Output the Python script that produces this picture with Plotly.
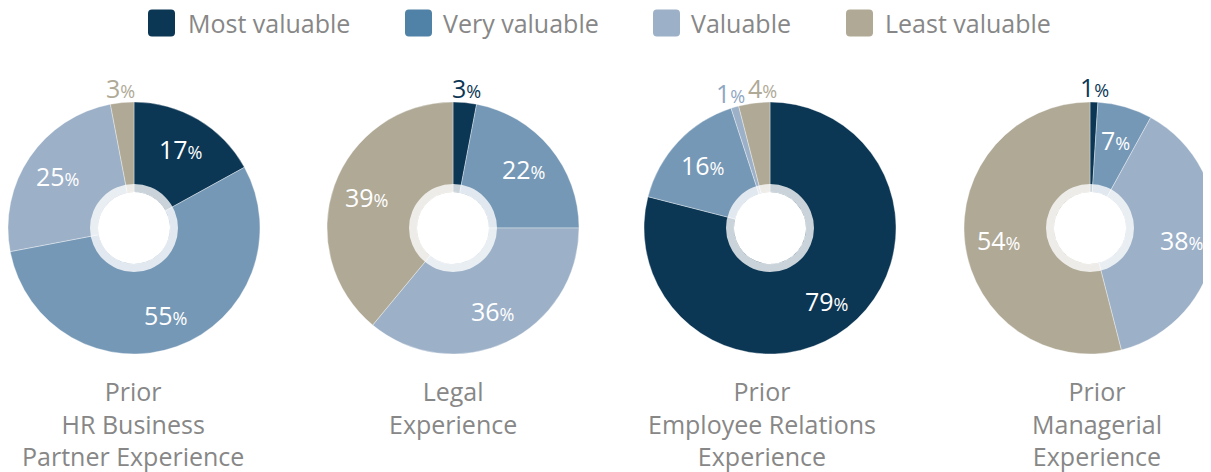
import math
import plotly.graph_objects as go

# ---------------- data ----------------
categories = ["Most valuable", "Very valuable", "Valuable", "Least valuable"]
experiences = [
    "Prior<br>HR Business<br>Partner Experience",
    "Legal<br>Experience",
    "Prior<br>Employee Relations<br>Experience",
    "Prior<br>Managerial<br>Experience",
]
hr_business_partner = [17, 55, 25, 3]
legal = [3, 22, 36, 39]
employee_relations = [79, 16, 1, 4]
managerial = [1, 7, 38, 54]
series = [hr_business_partner, legal, employee_relations, managerial]

# ---------------- styles ----------------
W, H = 1211, 472
OX, OY = 8, 8  # page body margin offset
slice_colors = ["#0b3654", "#7598b6", "#9cb0c8", "#afa996"]
legend_colors = ["#0b3654", "#4f82a6", "#9cb0c8", "#afa996"]
label_out_colors = ["#0b3654", "#7598b6", "#8fa6c2", "#afa996"]
FONT = "Open Sans"
GRAY = "#878787"

pie_centers = [(134, 228), (453, 228), (770, 228), (1090, 228)]  # page px
R = 126
HOLE_R = 36
RING_R = 44
title_x = [133, 453, 762, 1097]
title_top = 372

legend_sq_x = [148, 405, 653, 846]
legend_txt_x = [186, 441, 689, 883]
legend_y = 23
SQ = 27


def PX(x):
    return min(max((x - OX) / W, 0.0), 1.0)


def PY(y):
    return min(max(1 - (y - OY) / H, 0.0), 1.0)


def dom(cx, cy, r):
    return dict(x=[PX(cx - r), PX(cx + r)], y=[PY(cy + r), PY(cy - r)])


fig = go.Figure()
annotations = []

for i, vals in enumerate(series):
    cx, cy = pie_centers[i]
    fig.add_trace(go.Pie(
        labels=categories,
        values=vals,
        sort=False,
        direction="clockwise",
        rotation=0,
        hole=HOLE_R / R,
        domain=dom(cx, cy, R),
        marker=dict(colors=slice_colors, line=dict(color="rgba(255,255,255,0.6)", width=0.6)),
        textinfo="none",
        showlegend=False,
        hoverinfo="label+percent",
    ))
    # translucent ring around the hole
    fig.add_trace(go.Pie(
        labels=["ring"],
        values=[1],
        sort=False,
        hole=HOLE_R / RING_R,
        domain=dom(cx, cy, RING_R),
        marker=dict(colors=["rgba(255,255,255,0.78)"], line=dict(width=0)),
        textinfo="none",
        hoverinfo="skip",
        showlegend=False,
    ))

    # value labels placed at each slice's mid-angle
    total = sum(vals)
    cum = 0
    last_out_x = None
    for j, v in enumerate(vals):
        mid = (cum + v / 2) / total
        cum += v
        th = mid * 2 * math.pi
        outside = v < 5
        r = R + 15 if outside else 0.73 * R
        lx = cx + r * math.sin(th)
        ly = cy - r * math.cos(th)
        if outside:
            if last_out_x is not None and lx < last_out_x + 32:
                lx = last_out_x + 32
            last_out_x = lx
            color = label_out_colors[j]
        else:
            color = "white"
        annotations.append(dict(
            x=PX(lx), y=PY(ly), xref="paper", yref="paper",
            xanchor="center", yanchor="middle", showarrow=False,
            text=f"{v}<span style='font-size:18px'>%</span>",
            font=dict(family=FONT, size=25, color=color),
        ))

for i, t in enumerate(experiences):
    annotations.append(dict(
        x=PX(title_x[i]), y=PY(title_top), xref="paper", yref="paper",
        xanchor="center", yanchor="top", text=t, showarrow=False, align="center",
        font=dict(family=FONT, size=25, color=GRAY),
    ))

shapes = []
rr = 4
for i, c in enumerate(categories):
    x0 = legend_sq_x[i]
    x1 = x0 + SQ
    y0 = legend_y - SQ / 2
    y1 = legend_y + SQ / 2

    def P(x, y):
        return f"{PX(x):.6f},{PY(y):.6f}"

    path = (f"M{P(x0 + rr, y0)} L{P(x1 - rr, y0)} Q{P(x1, y0)} {P(x1, y0 + rr)} "
            f"L{P(x1, y1 - rr)} Q{P(x1, y1)} {P(x1 - rr, y1)} "
            f"L{P(x0 + rr, y1)} Q{P(x0, y1)} {P(x0, y1 - rr)} "
            f"L{P(x0, y0 + rr)} Q{P(x0, y0)} {P(x0 + rr, y0)} Z")
    shapes.append(dict(type="path", path=path, xref="paper", yref="paper",
                       fillcolor=legend_colors[i], line=dict(width=0)))
    annotations.append(dict(
        x=PX(legend_txt_x[i]), y=PY(legend_y), xref="paper", yref="paper",
        xanchor="left", yanchor="middle", text=c, showarrow=False,
        font=dict(family=FONT, size=25, color=GRAY),
    ))

fig.update_layout(
    width=W, height=H,
    margin=dict(l=0, r=0, t=0, b=0),
    paper_bgcolor="white", plot_bgcolor="white",
    annotations=annotations, shapes=shapes,
)

fig.write_html("out.html")
